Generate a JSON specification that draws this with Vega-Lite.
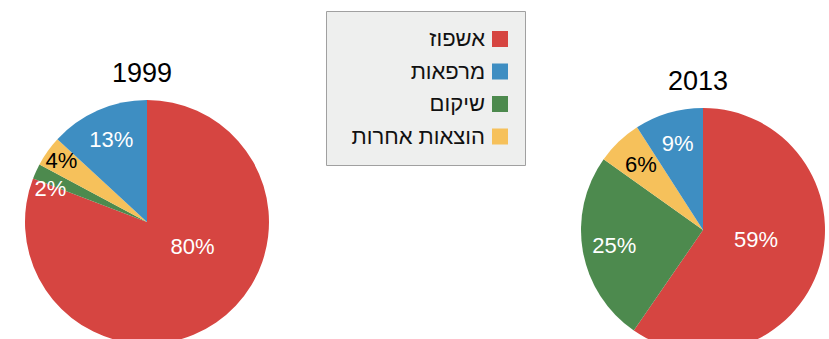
{
  "$schema": "https://vega.github.io/schema/vega-lite/v6.json",
  "width": 829,
  "height": 339,
  "padding": 0,
  "autosize": {"type": "none"},
  "background": "white",
  "config": {"view": {"stroke": null}, "font": "Liberation Sans"},
  "datasets": {
    "shares": [
      {"year": 1999, "category": "אשפוז", "value": 80, "order": 1, "label": "80%"},
      {"year": 1999, "category": "שיקום", "value": 2, "order": 2, "label": "2%"},
      {"year": 1999, "category": "הוצאות אחרות", "value": 4, "order": 3, "label": "4%"},
      {"year": 1999, "category": "מרפאות", "value": 13, "order": 4, "label": "13%"},
      {"year": 2013, "category": "אשפוז", "value": 59, "order": 1, "label": "59%"},
      {"year": 2013, "category": "שיקום", "value": 25, "order": 2, "label": "25%"},
      {"year": 2013, "category": "הוצאות אחרות", "value": 6, "order": 3, "label": "6%"},
      {"year": 2013, "category": "מרפאות", "value": 9, "order": 4, "label": "9%"}
    ],
    "years": [{"year": 1999}, {"year": 2013}]
  },
  "data": {"name": "shares"},
  "encoding": {
    "x": {"field": "year", "type": "quantitative", "scale": {"domain": [1999, 2013], "range": [147, 703], "zero": false, "nice": false}, "axis": null},
    "y": {"field": "year", "type": "quantitative", "scale": {"domain": [1999, 2013], "range": [222, 230], "zero": false, "nice": false}, "axis": null}
  },
  "layer": [
    {
      "transform": [{"filter": "datum.year == 1999"}],
      "mark": {"type": "arc", "outerRadius": 122},
      "encoding": {
        "theta": {"field": "value", "type": "quantitative", "stack": true},
        "order": {"field": "order", "type": "quantitative"},
        "color": {
          "field": "category", "type": "nominal",
          "scale": {"domain": ["אשפוז", "מרפאות", "שיקום", "הוצאות אחרות"], "range": ["#d64541", "#3e8ec2", "#4d8a4e", "#f6c15b"]},
          "legend": {
            "orient": "none", "legendX": 326, "legendY": 11, "title": null,
            "fillColor": "#eeefee", "strokeColor": "#a0a0a0", "padding": 17,
            "symbolType": "square", "symbolSize": 256, "symbolStrokeWidth": 0, "symbolOpacity": 1,
            "symbolOffset": 146,
            "labelFont": "Liberation Sans", "labelFontSize": 22, "labelColor": "#111111",
            "labelAlign": "right", "labelOffset": -26,
            "rowPadding": 10.5
          }
        }
      }
    },
    {
      "transform": [{"filter": "datum.year == 1999"}],
      "mark": {"type": "text", "radius": 102, "thetaOffset": -0.1, "fontSize": 22, "font": "Liberation Sans", "baseline": "middle", "align": "center", "color": "#ffffff"},
      "encoding": {
        "theta": {"field": "value", "type": "quantitative", "stack": true},
        "order": {"field": "order", "type": "quantitative"},
        "text": {"condition": {"test": "datum.value < 3", "field": "label"}, "value": ""}
      }
    },
    {
      "transform": [{"filter": "datum.year == 1999"}],
      "mark": {"type": "text", "radius": 105, "fontSize": 22, "font": "Liberation Sans", "baseline": "middle", "align": "center", "color": "#000000"},
      "encoding": {
        "theta": {"field": "value", "type": "quantitative", "stack": true},
        "order": {"field": "order", "type": "quantitative"},
        "text": {"condition": {"test": "datum.value >= 3 && datum.value < 10", "field": "label"}, "value": ""}
      }
    },
    {
      "transform": [{"filter": "datum.year == 1999"}],
      "mark": {"type": "text", "radius": 89, "fontSize": 22, "font": "Liberation Sans", "baseline": "middle", "align": "center", "color": "#ffffff"},
      "encoding": {
        "theta": {"field": "value", "type": "quantitative", "stack": true},
        "order": {"field": "order", "type": "quantitative"},
        "text": {"condition": {"test": "datum.value >= 10 && datum.value < 50", "field": "label"}, "value": ""}
      }
    },
    {
      "transform": [{"filter": "datum.year == 1999"}],
      "mark": {"type": "text", "radius": 52, "thetaOffset": -0.46, "fontSize": 22, "font": "Liberation Sans", "baseline": "middle", "align": "center", "color": "#ffffff"},
      "encoding": {
        "theta": {"field": "value", "type": "quantitative", "stack": true},
        "order": {"field": "order", "type": "quantitative"},
        "text": {"condition": {"test": "datum.value >= 50", "field": "label"}, "value": ""}
      }
    },
    {
      "transform": [{"filter": "datum.year == 2013"}],
      "mark": {"type": "arc", "outerRadius": 122},
      "encoding": {
        "theta": {"field": "value", "type": "quantitative", "stack": true},
        "order": {"field": "order", "type": "quantitative"},
        "color": {"field": "category", "type": "nominal"}
      }
    },
    {
      "transform": [{"filter": "datum.year == 2013"}],
      "mark": {"type": "text", "radius": 90, "fontSize": 22, "font": "Liberation Sans", "baseline": "middle", "align": "center"},
      "encoding": {
        "theta": {"field": "value", "type": "quantitative", "stack": true},
        "order": {"field": "order", "type": "quantitative"},
        "text": {"condition": {"test": "datum.value < 50", "field": "label"}, "value": ""},
        "color": {"condition": {"test": "datum.category == 'הוצאות אחרות'", "value": "#000000"}, "value": "#ffffff"}
      }
    },
    {
      "transform": [{"filter": "datum.year == 2013"}],
      "mark": {"type": "text", "radius": 54, "thetaOffset": -0.115, "fontSize": 22, "font": "Liberation Sans", "baseline": "middle", "align": "center", "color": "#ffffff"},
      "encoding": {
        "theta": {"field": "value", "type": "quantitative", "stack": true},
        "order": {"field": "order", "type": "quantitative"},
        "text": {"condition": {"test": "datum.value >= 50", "field": "label"}, "value": ""}
      }
    },
    {
      "data": {"name": "years"},
      "mark": {"type": "text", "fontSize": 27, "font": "Liberation Sans", "color": "#000000", "baseline": "middle", "align": "center", "dy": -148, "dx": -5},
      "encoding": {
        "text": {"field": "year", "type": "nominal"}
      }
    }
  ]
}
